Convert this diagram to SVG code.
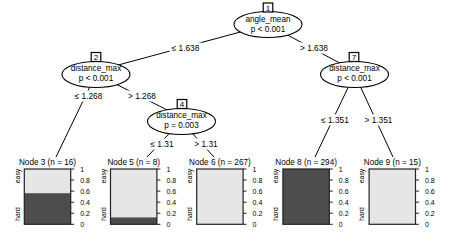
<svg xmlns="http://www.w3.org/2000/svg" width="450" height="250" viewBox="0 0 450 250">
<style>
text{font-family:"Liberation Sans",Arial,Helvetica,sans-serif;fill:#000}
.nt{font-size:8.2px;text-anchor:middle}
.id{font-size:8px;text-anchor:middle}
.el{fill:#fff;stroke:#000;stroke-width:1.1}
.bx{fill:#fff;stroke:#000;stroke-width:1.2}
.edge{stroke:#000;stroke-width:1;fill:none}
.lbg{fill:#fff}
.lt{font-size:8.3px;text-anchor:middle}
.tl{font-size:8.2px;text-anchor:middle}
.ax{font-size:7px;text-anchor:start}
.cl{font-size:6.8px;text-anchor:middle}
.light{fill:#E6E6E6}
.dark{fill:#4D4D4D}
.frame{fill:none;stroke:#222;stroke-width:1.2}
.tick{stroke:#222;stroke-width:1}
</style>
<defs>
<g id="axis">
<line class="tick" x1="0" y1="169" x2="3.5" y2="169"/>
<line class="tick" x1="0" y1="180.06" x2="3.5" y2="180.06"/>
<line class="tick" x1="0" y1="191.12" x2="3.5" y2="191.12"/>
<line class="tick" x1="0" y1="202.18" x2="3.5" y2="202.18"/>
<line class="tick" x1="0" y1="213.24" x2="3.5" y2="213.24"/>
<line class="tick" x1="0" y1="224.3" x2="3.5" y2="224.3"/>
<text class="ax" x="9.5" y="171.5">1</text>
<text class="ax" x="9.5" y="182.6">0.8</text>
<text class="ax" x="9.5" y="193.6">0.6</text>
<text class="ax" x="9.5" y="204.7">0.4</text>
<text class="ax" x="9.5" y="215.7">0.2</text>
<text class="ax" x="9.5" y="226.8">0</text>
</g>
<g id="cls">
<text class="cl" transform="translate(0,176) rotate(-90)">easy</text>
<text class="cl" transform="translate(0,214) rotate(-90)">hard</text>
</g>
</defs>

<g id="connectors">
<line class="edge" x1="268" y1="24.5" x2="96" y2="71"/>
<line class="edge" x1="268" y1="24.5" x2="354.5" y2="71"/>
<line class="edge" x1="96" y1="74" x2="56" y2="157"/>
<line class="edge" x1="96" y1="74" x2="181" y2="117"/>
<line class="edge" x1="181" y1="121" x2="147" y2="157"/>
<line class="edge" x1="181" y1="121" x2="214" y2="157"/>
<line class="edge" x1="354.5" y1="74" x2="315" y2="157"/>
<line class="edge" x1="354.5" y1="74" x2="393" y2="157"/>
<rect class="lbg" x="169.5" y="42.5" width="32" height="11"/>
<text class="lt" x="185.5" y="51">≤ 1.638</text>
<rect class="lbg" x="298" y="42.5" width="32" height="11"/>
<text class="lt" x="314" y="51">&gt; 1.638</text>
<rect class="lbg" x="72.5" y="90.5" width="32" height="11"/>
<text class="lt" x="88.5" y="99">≤ 1.268</text>
<rect class="lbg" x="126" y="90.5" width="32" height="11"/>
<text class="lt" x="142" y="99">&gt; 1.268</text>
<rect class="lbg" x="148" y="138.5" width="28" height="11"/>
<text class="lt" x="162" y="147">≤ 1.31</text>
<rect class="lbg" x="192" y="138.5" width="28" height="11"/>
<text class="lt" x="206" y="147">&gt; 1.31</text>
<rect class="lbg" x="319" y="114.5" width="32" height="11"/>
<text class="lt" x="335" y="123">≤ 1.351</text>
<rect class="lbg" x="362.5" y="114.5" width="32" height="11"/>
<text class="lt" x="378.5" y="123">&gt; 1.351</text>
</g>

<g id="node1">
<ellipse class="el" cx="268" cy="24.5" rx="34" ry="13"/>
<rect class="bx" x="263.2" y="3" width="9.6" height="9"/>
<text class="id" x="268" y="10.5">1</text>
<text class="nt" x="268" y="21.8">angle_mean</text>
<text class="nt" x="268" y="31.8">p &lt; 0.001</text>
</g>
<g id="node2">
<ellipse class="el" cx="96" cy="74.5" rx="34" ry="13"/>
<rect class="bx" x="91.2" y="52.5" width="9.6" height="9"/>
<text class="id" x="96" y="60">2</text>
<text class="nt" x="96" y="70.5">distance_max</text>
<text class="nt" x="96" y="80.5">p &lt; 0.001</text>
</g>
<g id="node4">
<ellipse class="el" cx="181.5" cy="121.5" rx="34" ry="13"/>
<rect class="bx" x="177.2" y="99.5" width="9.6" height="9"/>
<text class="id" x="182" y="107">4</text>
<text class="nt" x="181.5" y="117.5">distance_max</text>
<text class="nt" x="181.5" y="127.5">p = 0.003</text>
</g>
<g id="node7">
<ellipse class="el" cx="354.5" cy="74.5" rx="34" ry="13"/>
<rect class="bx" x="349.2" y="52.5" width="9.6" height="9"/>
<text class="id" x="354" y="60">7</text>
<text class="nt" x="354.5" y="70.5">distance_max</text>
<text class="nt" x="354.5" y="80.5">p &lt; 0.001</text>
</g>

<g id="node3">
<text class="tl" x="47.5" y="165.3">Node 3 (n = 16)</text>
<rect class="light" x="24.3" y="169" width="46.4" height="24.2"/>
<rect class="dark" x="24.3" y="193.2" width="46.4" height="31.1"/>
<rect class="frame" x="24.3" y="169" width="46.4" height="55.3"/>
<use href="#axis" x="70.7"/>
<use href="#cls" x="19.5"/>
</g>
<g id="node5">
<text class="tl" x="133.7" y="165.3">Node 5 (n = 8)</text>
<rect class="light" x="110.5" y="169" width="46.4" height="48.4"/>
<rect class="dark" x="110.5" y="217.4" width="46.4" height="6.9"/>
<rect class="frame" x="110.5" y="169" width="46.4" height="55.3"/>
<use href="#axis" x="156.9"/>
<use href="#cls" x="105.7"/>
</g>
<g id="node6">
<text class="tl" x="219.9" y="165.3">Node 6 (n = 267)</text>
<rect class="light" x="196.7" y="169" width="46.4" height="55.3"/>
<rect class="frame" x="196.7" y="169" width="46.4" height="55.3"/>
<use href="#axis" x="243.1"/>
<use href="#cls" x="191.9"/>
</g>
<g id="node8">
<text class="tl" x="306.1" y="165.3">Node 8 (n = 294)</text>
<rect class="dark" x="282.9" y="169" width="46.4" height="55.3"/>
<rect class="frame" x="282.9" y="169" width="46.4" height="55.3"/>
<use href="#axis" x="329.3"/>
<use href="#cls" x="278.1"/>
</g>
<g id="node9">
<text class="tl" x="392.3" y="165.3">Node 9 (n = 15)</text>
<rect class="light" x="369.1" y="169" width="46.4" height="55.3"/>
<rect class="frame" x="369.1" y="169" width="46.4" height="55.3"/>
<use href="#axis" x="415.5"/>
<use href="#cls" x="364.3"/>
</g>
</svg>
